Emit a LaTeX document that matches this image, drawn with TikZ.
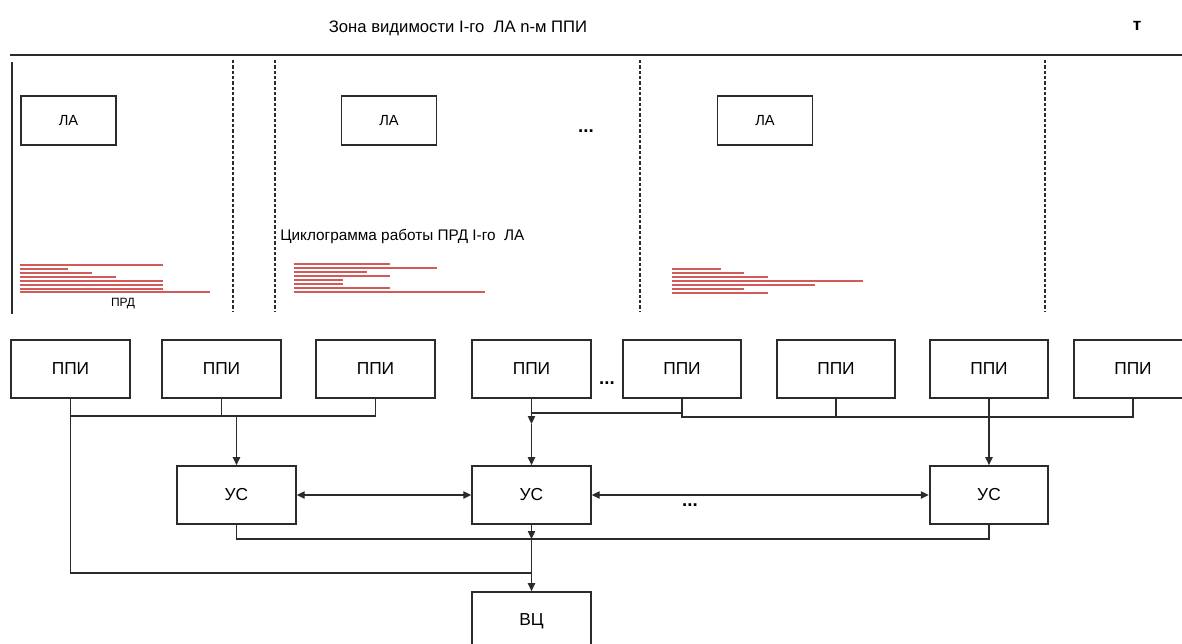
\documentclass[tikz,border=0pt]{standalone}
\usepackage{fontspec}
\setmainfont{Liberation Sans}
\usepackage{tikz}
\usetikzlibrary{arrows.meta,positioning}
\usepackage{xcolor}
\definecolor{ink}{HTML}{2B2B2B}
\definecolor{burstred}{HTML}{D45A5A}
\tikzset{
  unit/.style={draw=ink,line width=1.3pt,minimum width=89pt,minimum height=43.5pt,
    inner sep=0pt,font=\fontsize{13}{15}\selectfont},
  craft/.style={draw=ink,line width=1.2pt,minimum width=71pt,minimum height=36.5pt,
    inner sep=0pt,font=\fontsize{11}{13}\selectfont},
  link/.style={draw=ink,line width=0.9pt},
  arrow/.style={link,-{Triangle[length=6pt,width=5.5pt]}},
  twoway/.style={link,{Triangle[length=6pt,width=5.5pt]}-{Triangle[length=6pt,width=5.5pt]}},
  zone/.style={draw=ink,line width=1.1pt,dash pattern=on 2.5pt off 1.5pt},
  burst/.style={draw=burstred,line width=1.5pt},
  dots/.style={font=\bfseries\fontsize{14}{16}\selectfont,inner sep=0pt},
  caption/.style={font=\fontsize{12.5}{14}\selectfont,inner sep=0pt}
}

\begin{document}
\begin{tikzpicture}[x=0.75pt,y=-0.75pt]
  \useasboundingbox (0,0) rectangle (1182,643);
  \fill[white] (0,0) rectangle (1182,643);
  \clip (0,0) rectangle (1182,643);

  % time axis and visibility zones
  \node[caption] (title) at (458,28) {Зона видимости I-го\ \ ЛА n-м ППИ};
  \node[font=\bfseries\fontsize{13}{15}\selectfont,inner sep=0pt] (t) at (1137,26) {т};
  \coordinate (axisL) at (10,55);
  \coordinate (axisR) at (1182,55);
  \draw[ink,line width=1.5pt] (axisL) -- (axisR);
  \draw[ink,line width=1.1pt] (12,62) -- (12,314);
  \foreach \x in {233,275,640,1045}
    \draw[zone] (\x,60) -- (\x,312);

  \node[craft] (la1) at (68.5,120.5) {ЛА};
  \node[craft] (la2) at (389,120.5) {ЛА};
  \node[craft] (la3) at (765,120.5) {ЛА};
  \node[dots] (d0) at (586,131) {...};

  \node[caption,font=\fontsize{11.5}{13}\selectfont,anchor=west] (cyc) at (280,236)
    {Циклограмма работы ПРД I-го\ \ ЛА};

  % transmitter cyclograms
  \foreach \y/\e in {265/163,269/68,273/92,277/116,281/163,285/163,289/163,292/210}
    \draw[burst] (20,\y) -- (\e,\y);
  \node[font=\fontsize{9}{11}\selectfont,inner sep=0pt] (prd) at (123,304) {ПРД};
  \foreach \y/\e in {264/390,268/437,272/367,276/390,280/343,284/343,288/390,292/485}
    \draw[burst] (294,\y) -- (\e,\y);
  \foreach \y/\e in {269/721,273/744,277/768,281/863,285/815,289/744,293/768}
    \draw[burst] (672,\y) -- (\e,\y);

  % ground stations
  \foreach \i/\x in {1/70.5,2/221.5,3/375.5,4/531.5,5/682,6/836,7/989,8/1133}
    \node[unit] (ppi\i) at (\x,369) {ППИ};
  \node[dots] (d1) at (607,383) {...};

  \node[unit] (us1) at (236.5,495) {УС};
  \node[unit] (us2) at (531.5,495) {УС};
  \node[unit] (us3) at (989,495) {УС};
  \node[dots] (d2) at (690,505) {...};
  \node[unit] (vc) at (531.5,621) {ВЦ};

  \coordinate (busL) at (0,416);
  \coordinate (tapR) at (0,413);
  \coordinate (busR) at (0,417);
  \coordinate (m1) at (531.5,424);
  \coordinate (m2) at (531.5,539);
  \coordinate (feed) at (0,573);

  % left group
  \draw[link] (ppi1.south) -- (ppi1.south |- busL) -- (ppi3.south |- busL) -- (ppi3.south);
  \draw[link] (ppi2.south) -- (ppi2.south |- busL);
  \draw[arrow] (us1.north |- busL) -- (us1.north);
  \draw[link] (ppi1.south |- busL) -- (ppi1.south |- feed) -- (vc.north |- feed);

  % right group
  \draw[link] (ppi4.south) -- (ppi4.south |- tapR) -- (ppi5.south |- tapR);
  \draw[link] (ppi5.south) -- (ppi5.south |- busR) -- (ppi8.south |- busR) -- (ppi8.south);
  \draw[link] (ppi6.south) -- (ppi6.south |- busR);
  \draw[arrow] (ppi4.south |- tapR) -- (m1);
  \draw[arrow] (m1) -- (us2.north);
  \draw[arrow] (ppi7.south) -- (us3.north);

  \draw[twoway] (us1.east) -- (us2.west);
  \draw[twoway] (us2.east) -- (us3.west);

  % to computing centre
  \draw[link] (us1.south) |- (m2) -| (us3.south);
  \draw[arrow] (us2.south) -- (m2);
  \draw[arrow] (m2) -- (vc.north);
\end{tikzpicture}
\end{document}
